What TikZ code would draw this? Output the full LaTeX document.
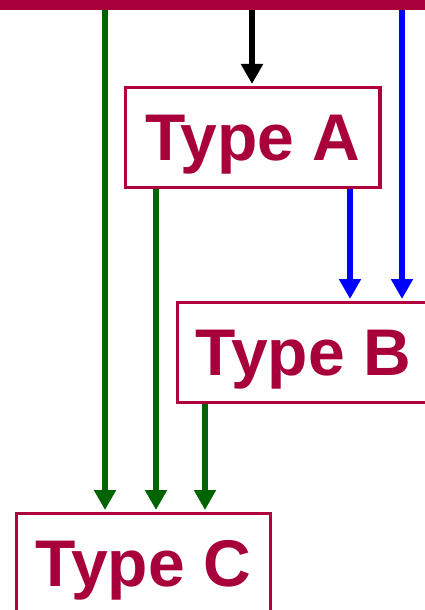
\documentclass[tikz,border=0pt]{standalone}
\usepackage{fontspec}
\setmainfont{Liberation Sans}
\usetikzlibrary{arrows.meta}
\definecolor{crim}{HTML}{A8003A}
\definecolor{boxred}{HTML}{B0003E}
\definecolor{dgreen}{HTML}{006400}
\begin{document}
\begin{tikzpicture}[x=1pt,y=-1pt,
  box/.style={draw=boxred, line width=3.3pt, text=crim, inner sep=0pt,
    font=\bfseries\fontsize{66}{70}\selectfont,
    text height=47.5pt, text depth=2.5pt},
  arr/.style={line width=6.5pt, -{Triangle[length=20pt,width=21pt]}, shorten >=2pt}]
\useasboundingbox (0,0) rectangle (425,610);
\node[box, minimum width=254.5pt, minimum height=99.7pt] (A) at (252.85,137.5) {Type A};
\node[box, minimum width=252pt, minimum height=99.7pt] (B) at (303.3,352.5) {Type B};
\node[box, minimum width=254pt, minimum height=99.7pt] (C) at (143.2,563.5) {Type C};
\coordinate (t1) at (105,9);
\coordinate (t2) at (252,9);
\coordinate (t3) at (402,9);
\draw[arr, black] (t2) -- (A.north -| t2);
\draw[arr, blue] (t3) -- (B.north -| t3);
\draw[arr, blue] (A.south -| 350,0) -- (B.north -| 350,0);
\draw[arr, dgreen] (t1) -- (C.north -| t1);
\draw[arr, dgreen] (A.south -| 156,0) -- (C.north -| 156,0);
\draw[arr, dgreen] (B.south -| 205,0) -- (C.north -| 205,0);
\fill[crim] (0,0) rectangle (425,10.5);
\end{tikzpicture}
\end{document}
